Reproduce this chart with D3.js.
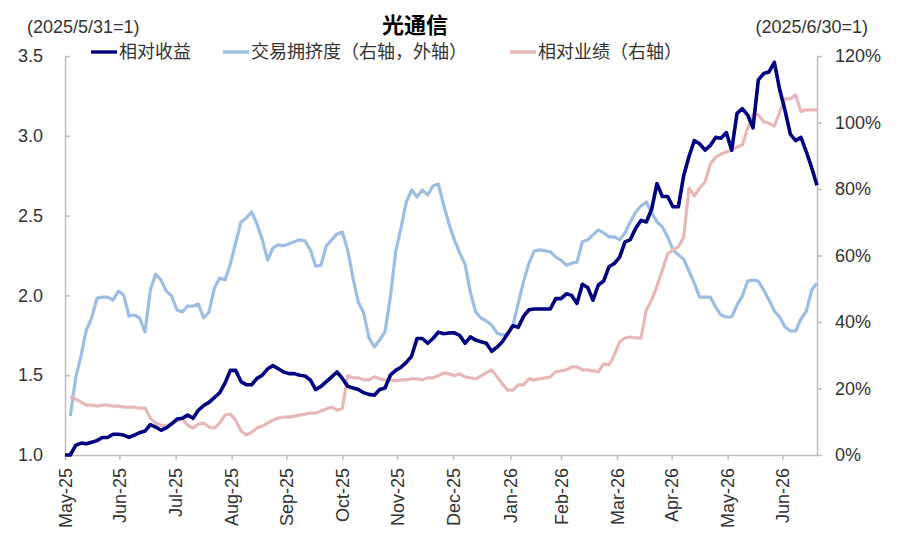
<!DOCTYPE html>
<html>
<head>
<meta charset="utf-8">
<script src="https://cdn.jsdelivr.net/npm/d3@7"></script>
<style>
body { margin: 0; background: #fff; }
text { font-family: "Liberation Sans", Arial, "Noto Sans CJK SC", sans-serif; }
</style>
</head>
<body>
<svg id="chart" width="900" height="538"></svg>
<script>
// month tick labels and their position in trading days from the start
var monthLabels = ["May-25", "Jun-25", "Jul-25", "Aug-25", "Sep-25", "Oct-25", "Nov-25", "Dec-25",
	"Jan-26", "Feb-26", "Mar-26", "Apr-26", "May-26", "Jun-26"];
var monthDays = [0, 20.4, 41.5, 62.5, 83, 104, 124.5, 145.5, 167, 186, 207, 227.5, 248.5, 269];
var totalDays = 282;
var dayStep = 2; // one value every 2 trading days

var leftTicks = [1.0, 1.5, 2.0, 2.5, 3.0, 3.5];
var rightTicks = [0, 20, 40, 60, 80, 100, 120];

var seriesNames = ["相对收益", "交易拥挤度（右轴，外轴）", "相对业绩（右轴）"];

// 相对收益 (left axis, 2025/5/31=1)
var relReturn = [1.00,1.00,1.06,1.075,1.07,1.08,1.09,1.11,1.11,1.13,
	1.13,1.125,1.11,1.125,1.14,1.15,1.19,1.175,1.155,1.17,
	1.195,1.225,1.23,1.25,1.23,1.28,1.31,1.33,1.36,1.39,
	1.45,1.53,1.53,1.46,1.44,1.44,1.48,1.50,1.54,1.56,
	1.54,1.52,1.51,1.51,1.50,1.495,1.47,1.41,1.43,1.46,
	1.49,1.52,1.48,1.43,1.42,1.41,1.39,1.38,1.375,1.41,
	1.42,1.50,1.53,1.55,1.58,1.62,1.73,1.73,1.70,1.73,
	1.77,1.76,1.765,1.765,1.75,1.70,1.74,1.72,1.71,1.70,
	1.65,1.675,1.71,1.76,1.81,1.80,1.87,1.91,1.915,1.915,
	1.915,1.915,1.98,1.98,2.01,2.00,1.95,2.07,2.05,1.97,
	2.065,2.09,2.18,2.20,2.24,2.335,2.35,2.42,2.47,2.46,
	2.54,2.70,2.62,2.62,2.555,2.555,2.75,2.87,2.97,2.95,
	2.91,2.94,2.99,2.985,3.02,2.91,3.14,3.17,3.13,3.05,
	3.35,3.39,3.40,3.46,3.29,3.16,3.01,2.97,2.99,2.90,
	2.80,2.69];

// 交易拥挤度 (right axis, %)
var crowding = [null,11.7,23.2,29.8,37.6,41.2,47.2,47.5,47.5,46.6,
	49.3,48.1,41.8,42.1,41.2,37.0,49.6,54.4,52.6,49.3,
	47.8,43.6,43.0,44.8,44.8,45.4,41.2,43.0,50.2,53.2,
	52.6,57.4,63.8,70.1,71.3,73.1,69.5,64.7,58.6,62.3,
	63.2,62.9,63.5,64.1,64.7,64.4,61.7,56.8,57.1,62.9,
	64.7,66.5,67.1,61.7,53.2,46.0,42.7,35.2,32.5,34.6,
	37.0,47.5,61.1,68.3,76.1,79.7,77.6,79.7,78.2,80.9,
	81.5,75.2,69.5,64.7,60.8,57.4,49.0,43.0,41.2,40.3,
	39.1,36.7,36.1,36.4,39.1,45.7,52.3,57.7,61.4,61.7,
	61.4,61.1,59.5,58.6,57.1,57.7,58.0,64.1,64.7,66.2,
	67.7,66.8,65.6,65.6,64.7,66.8,70.1,73.1,74.9,76.1,
	72.8,70.1,68.6,65.6,61.7,60.2,58.9,55.3,51.7,47.5,
	47.5,47.5,44.5,42.1,41.5,41.5,45.1,47.8,52.3,52.6,
	52.3,49.6,46.6,43.3,41.5,38.5,37.3,37.3,40.9,43.3,
	49.6,51.7];

// 相对业绩 (right axis, %, 2025/6/30=1)
var relPerf = [null,17.7,16.8,15.9,15.0,15.0,14.7,15.0,15.0,14.7,
	14.7,14.4,14.4,14.4,14.1,14.1,11.1,9.6,9.0,8.7,
	9.6,10.2,10.8,9.0,8.1,9.3,9.6,8.4,8.1,9.6,
	12.0,12.3,10.5,7.2,6.0,6.9,8.1,8.7,9.6,10.5,
	11.1,11.4,11.4,11.7,12.0,12.3,12.6,12.6,13.2,13.8,
	14.4,13.5,14.0,23.8,23.2,23.2,22.6,22.6,23.5,22.9,
	22.6,22.6,22.3,22.6,22.6,22.9,22.9,22.6,23.2,23.2,
	23.8,24.7,24.4,23.8,24.4,23.5,23.2,22.9,23.8,24.7,
	25.6,23.5,21.4,19.5,19.5,21.1,21.1,22.9,22.6,22.9,
	23.2,23.5,25.0,25.3,25.6,26.5,26.5,25.6,25.6,25.3,
	25.0,27.4,27.1,30.1,34.0,35.2,35.5,35.2,35.2,43.6,
	46.6,50.8,55.6,60.5,61.7,62.6,65.5,80.3,77.9,80.3,
	82.1,87.5,89.6,90.5,91.1,91.7,92.6,93.2,98.3,102.3,
	102.3,100.2,99.8,98.9,103.2,107.1,107.1,108.3,103.2,103.8,
	103.8,103.8];

var svg = d3.select("#chart"),
	margin = {top: 56, left: 65, bottom: 83, right: 83},
	width = +svg.attr("width"),
	height = +svg.attr("height");

var axisColor = "#bfbfbf",
	textColor = "#333";

var x = d3.scaleLinear()
	.domain([0, totalDays])
	.range([margin.left, width - margin.right]);

var yLeft = d3.scaleLinear()
	.domain([1, 3.5])
	.range([height - margin.bottom, margin.top]);

var yRight = d3.scaleLinear()
	.domain([0, 120])
	.range([height - margin.bottom, margin.top]);

var xAxis = svg.append("g")
	.attr("transform", `translate(0,${height - margin.bottom})`)
	.call(d3.axisBottom(x)
		.tickValues(monthDays)
		.tickFormat(d => monthLabels[monthDays.indexOf(d)])
		.tickSize(5)
		.tickSizeOuter(0));

xAxis.selectAll(".tick text")
	.attr("transform", "rotate(-90)")
	.attr("text-anchor", "end")
	.attr("x", -13)
	.attr("y", 0)
	.attr("dy", "0.35em");

var leftAxis = svg.append("g")
	.attr("transform", `translate(${margin.left},0)`)
	.call(d3.axisLeft(yLeft)
		.tickValues(leftTicks)
		.tickFormat(d3.format(".1f"))
		.tickSizeInner(-5)
		.tickSizeOuter(0)
		.tickPadding(22));

var rightAxis = svg.append("g")
	.attr("transform", `translate(${width - margin.right},0)`)
	.call(d3.axisRight(yRight)
		.tickValues(rightTicks)
		.tickFormat(d => d + "%")
		.tickSizeInner(5)
		.tickSizeOuter(0)
		.tickPadding(13));

[xAxis, leftAxis, rightAxis].forEach(function(g) {
	g.attr("font-family", null).attr("font-size", null);
	g.select(".domain").attr("stroke", axisColor).attr("stroke-width", 1.5);
	g.selectAll(".tick line").attr("stroke", axisColor).attr("stroke-width", 1.5);
	g.selectAll(".tick text").attr("fill", textColor).style("font-size", "18px");
});

function lineFor(yScale) {
	return d3.line()
		.defined(d => d != null)
		.x((d, i) => x(i * dayStep))
		.y(d => yScale(d));
}

var series = [
	{values: crowding, scale: yRight, color: "#9dbde2", width: 3.2},
	{values: relPerf, scale: yRight, color: "#e8b8b8", width: 3.2},
	{values: relReturn, scale: yLeft, color: "#000080", width: 3.6}
];

svg.selectAll("path.series")
	.data(series)
	.enter().append("path")
	.attr("class", "series")
	.attr("fill", "none")
	.attr("stroke", d => d.color)
	.attr("stroke-width", d => d.width)
	.attr("stroke-linejoin", "round")
	.attr("d", d => lineFor(d.scale)(d.values));

// title and axis notes
svg.append("text")
	.attr("x", 415)
	.attr("y", 33)
	.attr("text-anchor", "middle")
	.style("font-size", "22px")
	.style("font-weight", "bold")
	.attr("fill", "#000")
	.text("光通信");

svg.append("text")
	.attr("x", 27)
	.attr("y", 33)
	.style("font-size", "18px")
	.attr("fill", textColor)
	.text("(2025/5/31=1)");

svg.append("text")
	.attr("x", 868)
	.attr("y", 33)
	.attr("text-anchor", "end")
	.style("font-size", "18px")
	.attr("fill", textColor)
	.text("(2025/6/30=1)");

// legend
var legendX = [91, 223, 510],
	legendColors = ["#000080", "#9dbde2", "#e8b8b8"];

var legend = svg.selectAll("g.legend")
	.data(seriesNames)
	.enter().append("g")
	.attr("class", "legend")
	.attr("transform", (d, i) => `translate(${legendX[i]},52)`);

legend.append("line")
	.attr("x1", 0)
	.attr("x2", 26)
	.attr("stroke", (d, i) => legendColors[i])
	.attr("stroke-width", 3.4);

legend.append("text")
	.attr("x", 28)
	.attr("dy", "0.36em")
	.style("font-size", "18px")
	.attr("fill", textColor)
	.text(d => d);
</script>
</body>
</html>
